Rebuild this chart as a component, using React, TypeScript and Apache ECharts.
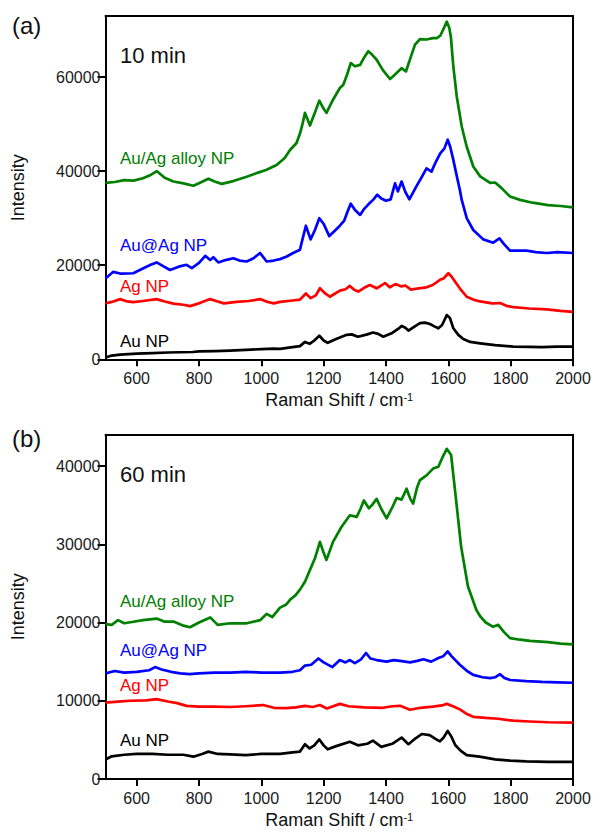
import React, { useEffect, useRef } from "react";
import * as echarts from "echarts";

// Raman spectra, 10 min (panel a) — [Raman shift cm-1, intensity]
const aAlloy: number[][] = [
  [500, 37500], [530, 37700], [560, 38100], [590, 38000], [620, 38500], [645, 39200], [665, 40000], [690, 38600],
  [718, 37800], [750, 37400], [782, 36900], [805, 37600], [830, 38400], [850, 37800], [873, 37300], [910, 37900],
  [953, 38800], [990, 39700], [1017, 40300], [1049, 41300], [1075, 42800], [1092, 44500], [1113, 46000], [1124, 48000],
  [1132, 50000], [1140, 52400], [1156, 49700], [1172, 52500], [1186, 55000], [1198, 53500], [1209, 52400], [1230, 55200],
  [1252, 57700], [1263, 58400], [1275, 60500], [1287, 63000], [1300, 62300], [1317, 62600], [1330, 64200], [1343, 65500],
  [1355, 64800], [1370, 63700], [1390, 61500], [1413, 59600], [1425, 60300], [1434, 60900], [1450, 61900], [1464, 61200],
  [1478, 64000], [1493, 66900], [1509, 68100], [1530, 68000], [1550, 68300], [1563, 68300], [1574, 68800], [1585, 70300],
  [1595, 71800], [1603, 70500], [1608, 68600], [1616, 62300], [1627, 55900], [1643, 49500], [1659, 45200], [1680, 41000],
  [1702, 38900], [1734, 37500], [1750, 37600], [1771, 36400], [1798, 34600], [1830, 33900], [1870, 33300], [1920, 32800],
  [1960, 32600], [2000, 32300],
];
const aCoreShell: number[][] = [
  [500, 17200], [525, 18600], [550, 18200], [589, 18300], [620, 19300], [645, 20100], [664, 20600], [685, 19800],
  [707, 19000], [735, 19700], [760, 20100], [777, 19400], [800, 20500], [820, 22000], [836, 21100], [846, 21700],
  [862, 20600], [885, 21100], [910, 21500], [930, 21000], [953, 20800], [975, 21500], [996, 22600], [1017, 20800],
  [1040, 21000], [1060, 21300], [1080, 21800], [1102, 22600], [1124, 23300], [1129, 24700], [1143, 28400], [1158, 25500],
  [1172, 27500], [1186, 30000], [1200, 28800], [1218, 26200], [1235, 27300], [1252, 28400], [1266, 29500], [1277, 31500],
  [1287, 33100], [1300, 31800], [1317, 30700], [1330, 32000], [1343, 32900], [1360, 34000], [1372, 35000], [1385, 34200],
  [1400, 33700], [1415, 34000], [1429, 37400], [1438, 35700], [1450, 37800], [1462, 35600], [1475, 34000], [1497, 36700],
  [1515, 38800], [1530, 40600], [1546, 39900], [1560, 42000], [1574, 43800], [1587, 44800], [1598, 46700], [1606, 45200],
  [1616, 42400], [1627, 39000], [1637, 36000], [1643, 33900], [1659, 30000], [1680, 27500], [1712, 25500], [1744, 24800],
  [1764, 25700], [1780, 24400], [1798, 23100], [1851, 23100], [1880, 22800], [1916, 22600], [1950, 22800], [2000, 22600],
];
const aAg: number[][] = [
  [500, 11900], [525, 12300], [547, 12800], [570, 12300], [589, 12150], [620, 12400], [664, 12800], [690, 12300],
  [718, 11850], [750, 11600], [771, 11300], [800, 11900], [836, 12800], [860, 12300], [880, 11900], [920, 12200],
  [960, 12400], [996, 12800], [1020, 12200], [1040, 11900], [1060, 12200], [1100, 12500], [1124, 12700], [1143, 14000],
  [1158, 13000], [1175, 13600], [1188, 15100], [1205, 14000], [1220, 13300], [1252, 14600], [1270, 14900], [1284, 15600],
  [1298, 14800], [1311, 14400], [1330, 15200], [1348, 15800], [1370, 15100], [1397, 16200], [1412, 15300], [1430, 16000],
  [1450, 15500], [1462, 15700], [1480, 14800], [1505, 15100], [1530, 15300], [1550, 15800], [1573, 16900], [1585, 17200],
  [1600, 18300], [1610, 17600], [1622, 16500], [1640, 14800], [1659, 13300], [1680, 12700], [1702, 12300], [1740, 11900],
  [1766, 11950], [1790, 11300], [1808, 11100], [1860, 10800], [1916, 10600], [1960, 10300], [2000, 10100],
];
const aAu: number[][] = [
  [500, 400], [520, 800], [547, 1000], [600, 1200], [650, 1300], [700, 1450], [739, 1500], [780, 1550],
  [800, 1700], [850, 1750], [900, 1850], [950, 2000], [1000, 2150], [1040, 2250], [1060, 2200], [1100, 2600],
  [1124, 2800], [1140, 3700], [1155, 3300], [1170, 4000], [1186, 5000], [1200, 4000], [1213, 3500], [1240, 4300],
  [1274, 5200], [1290, 5300], [1310, 4800], [1340, 5300], [1358, 5700], [1375, 5400], [1391, 4800], [1420, 5600],
  [1440, 6500], [1450, 7100], [1462, 6700], [1472, 6100], [1490, 6900], [1509, 7700], [1525, 7800], [1541, 7500],
  [1555, 7000], [1568, 6600], [1580, 7300], [1595, 9400], [1605, 8800], [1616, 6600], [1632, 5200], [1648, 4300],
  [1670, 3700], [1702, 3400], [1750, 3000], [1808, 2700], [1860, 2650], [1900, 2600], [1950, 2700], [2000, 2700],
];

// Raman spectra, 60 min (panel b)
const bAlloy: number[][] = [
  [500, 19800], [520, 19700], [540, 20300], [560, 19900], [590, 20100], [620, 20300], [664, 20500], [690, 20100],
  [720, 20100], [750, 19600], [771, 19400], [800, 20000], [836, 20650], [860, 19700], [900, 19900], [953, 19900],
  [996, 20300], [1017, 21100], [1035, 20700], [1060, 21900], [1080, 22300], [1092, 22900], [1110, 23500], [1124, 24200],
  [1140, 25200], [1156, 26700], [1172, 28200], [1188, 30300], [1200, 28900], [1209, 28000], [1230, 30300], [1257, 32200],
  [1284, 33700], [1306, 33500], [1318, 34500], [1329, 35600], [1345, 34600], [1355, 35000], [1370, 35800], [1385, 34500],
  [1402, 33300], [1420, 34700], [1434, 35900], [1450, 35700], [1466, 37100], [1478, 35800], [1487, 35200], [1500, 37300],
  [1509, 38200], [1530, 38800], [1552, 39700], [1568, 39900], [1580, 41000], [1595, 42200], [1609, 41400], [1617, 38500],
  [1625, 35600], [1641, 29700], [1663, 24600], [1690, 21600], [1702, 20800], [1720, 20000], [1744, 19450], [1760, 19700],
  [1778, 18800], [1798, 18000], [1830, 17800], [1862, 17650], [1920, 17500], [1960, 17300], [2000, 17200],
];
const bCoreShell: number[][] = [
  [500, 13500], [530, 13800], [560, 13600], [600, 13700], [640, 13900], [659, 14300], [680, 14000], [710, 13700],
  [740, 13500], [770, 13400], [800, 13500], [850, 13600], [900, 13600], [950, 13700], [1000, 13600], [1060, 13600],
  [1100, 13700], [1124, 13900], [1140, 14500], [1160, 14600], [1183, 15400], [1200, 14900], [1228, 14300], [1252, 15200],
  [1270, 14900], [1284, 15200], [1300, 14800], [1320, 15300], [1336, 16100], [1350, 15400], [1370, 15200], [1402, 15000],
  [1425, 15200], [1445, 15100], [1477, 14900], [1500, 15100], [1520, 15300], [1545, 15000], [1570, 15500], [1584, 15700],
  [1598, 16300], [1610, 15700], [1637, 14600], [1660, 13800], [1680, 13300], [1710, 13000], [1734, 12900], [1750, 13000],
  [1766, 13400], [1780, 12900], [1798, 12650], [1850, 12500], [1900, 12400], [1950, 12350], [2000, 12300],
];
const bAg: number[][] = [
  [500, 9750], [540, 9900], [580, 10000], [630, 10050], [664, 10200], [700, 9900], [730, 9700], [760, 9350],
  [800, 9250], [850, 9250], [900, 9200], [950, 9300], [1006, 9450], [1040, 9100], [1080, 9050], [1110, 9150],
  [1140, 9350], [1165, 9200], [1188, 9450], [1210, 9000], [1252, 9600], [1280, 9300], [1330, 9150], [1390, 9100],
  [1420, 9300], [1445, 9350], [1477, 8850], [1510, 9100], [1550, 9250], [1580, 9400], [1595, 9600], [1615, 9300],
  [1637, 8900], [1660, 8300], [1680, 7950], [1720, 7800], [1760, 7700], [1808, 7450], [1860, 7350], [1920, 7250],
  [2000, 7200],
];
const bAu: number[][] = [
  [500, 2500], [520, 2900], [560, 3100], [600, 3200], [650, 3200], [700, 3100], [750, 3100], [782, 2850],
  [810, 3200], [830, 3500], [860, 3200], [900, 3150], [950, 3050], [1000, 3200], [1060, 3200], [1100, 3400],
  [1124, 3500], [1140, 4450], [1155, 3900], [1170, 4300], [1186, 5050], [1200, 4300], [1213, 3800], [1240, 4200],
  [1284, 4750], [1310, 4300], [1340, 4500], [1358, 4900], [1385, 4100], [1420, 4500], [1450, 5300], [1472, 4450],
  [1495, 5200], [1515, 5750], [1540, 5600], [1560, 5100], [1573, 4800], [1585, 5300], [1598, 6150], [1610, 5400],
  [1622, 4350], [1640, 3600], [1659, 3050], [1700, 2850], [1750, 2500], [1798, 2350], [1850, 2250], [1920, 2200],
  [2000, 2200],
];

const xTicks = [600, 800, 1000, 1200, 1400, 1600, 1800, 2000];
const yTicksA = [0, 20000, 40000, 60000];
const yTicksB = [0, 10000, 20000, 30000, 40000];
const sampleNames = ["Au/Ag alloy NP", "Au@Ag NP", "Ag NP", "Au NP"];
const sampleColors = ["#008000", "#0000ff", "#ff0000", "#000000"];

const FONT = "'Liberation Sans', Arial, sans-serif";
const plain = (v: number) => String(v);

function xAxisFor(gridIndex: number) {
  return {
    type: "value",
    gridIndex,
    min: 500,
    max: 2000,
    name: "{a|Raman Shift / cm}{s|-1}",
    nameLocation: "middle",
    nameGap: 32,
    nameTextStyle: {
      rich: {
        a: { fontSize: 18, color: "#111", fontFamily: FONT, lineHeight: 18, verticalAlign: "bottom" },
        s: { fontSize: 11, color: "#111", fontFamily: FONT, lineHeight: 10, verticalAlign: "top" },
      },
    },
    axisLine: { show: true, onZero: false, lineStyle: { color: "#000", width: 2 } },
    axisTick: { show: true, length: 7, customValues: xTicks, lineStyle: { color: "#000", width: 2 } },
    axisLabel: { customValues: xTicks, formatter: plain, fontSize: 16, color: "#1a1a1a", margin: 11, fontFamily: FONT },
    splitLine: { show: false },
  };
}

// plain frame line along the top of each plot
function xFrameFor(gridIndex: number) {
  return {
    type: "value",
    gridIndex,
    position: "top",
    min: 500,
    max: 2000,
    axisLine: { show: true, onZero: false, lineStyle: { color: "#000", width: 2 } },
    axisTick: { show: false },
    axisLabel: { show: false },
    splitLine: { show: false },
  };
}

function yAxisFor(gridIndex: number, max: number, ticks: number[]) {
  return {
    type: "value",
    gridIndex,
    min: 0,
    max,
    name: "Intensity",
    nameLocation: "middle",
    nameGap: 79,
    nameTextStyle: { fontSize: 18, color: "#111", fontFamily: FONT },
    axisLine: { show: true, onZero: false, lineStyle: { color: "#000", width: 2 } },
    axisTick: { show: true, length: 8, customValues: ticks, lineStyle: { color: "#000", width: 2 } },
    axisLabel: { customValues: ticks, formatter: plain, fontSize: 16, color: "#1a1a1a", margin: 5, fontFamily: FONT },
    splitLine: { show: false },
  };
}

// plain frame line along the right of each plot
function yFrameFor(gridIndex: number, max: number) {
  return {
    type: "value",
    gridIndex,
    position: "right",
    min: 0,
    max,
    axisLine: { show: true, onZero: false, lineStyle: { color: "#000", width: 2 } },
    axisTick: { show: false },
    axisLabel: { show: false },
    splitLine: { show: false },
  };
}

function lineSeries(data: number[][], color: string, axisIndex: number) {
  return {
    type: "line",
    xAxisIndex: axisIndex,
    yAxisIndex: axisIndex,
    data,
    showSymbol: false,
    symbol: "none",
    lineStyle: { color, width: 2.7, join: "round" },
    silent: true,
  };
}

function sampleLabel(text: string, color: string, y: number) {
  return {
    type: "text",
    left: 120,
    top: y - 10,
    style: { text, fill: color, fontSize: 17, fontFamily: FONT },
  };
}

export default function App() {
  const ref = useRef<HTMLDivElement>(null);

  useEffect(() => {
    if (!ref.current) return;
    const chart = echarts.init(ref.current, undefined, { renderer: "svg" });
    const panelA = [aAlloy, aCoreShell, aAg, aAu];
    const panelB = [bAlloy, bCoreShell, bAg, bAu];
    const labelYA = [160, 247, 288, 343];
    const labelYB = [603, 652, 687, 742];

    chart.setOption({
      animation: false,
      backgroundColor: "#ffffff",
      textStyle: { fontFamily: FONT },
      grid: [
        { left: 105.5, top: 16, width: 467.5, height: 343.3, outerBoundsMode: "none", containLabel: false },
        { left: 105.5, top: 434.7, width: 467.5, height: 344.3, outerBoundsMode: "none", containLabel: false },
      ],
      xAxis: [xAxisFor(0), xAxisFor(1), xFrameFor(0), xFrameFor(1)],
      yAxis: [yAxisFor(0, 73000, yTicksA), yAxisFor(1, 44000, yTicksB), yFrameFor(0, 73000), yFrameFor(1, 44000)],
      series: [
        ...panelA.map((d, i) => lineSeries(d, sampleColors[i], 0)),
        ...panelB.map((d, i) => lineSeries(d, sampleColors[i], 1)),
      ],
      graphic: [
        { type: "text", left: 12, top: 13, style: { text: "(a)", fontSize: 24, fill: "#111", fontFamily: FONT } },
        { type: "text", left: 12, top: 426, style: { text: "(b)", fontSize: 24, fill: "#111", fontFamily: FONT } },
        { type: "text", left: 120, top: 44, style: { text: "10 min", fontSize: 22, fill: "#111", fontFamily: FONT } },
        { type: "text", left: 120, top: 463, style: { text: "60 min", fontSize: 22, fill: "#111", fontFamily: FONT } },
        ...sampleNames.map((n, i) => sampleLabel(n, sampleColors[i], labelYA[i])),
        ...sampleNames.map((n, i) => sampleLabel(n, sampleColors[i], labelYB[i])),
      ],
    });

    return () => {
      chart.dispose();
    };
  }, []);

  return (
    <div
      ref={ref}
      style={{ position: "absolute", left: 0, top: 0, width: 593, height: 833, background: "#fff" }}
    />
  );
}
